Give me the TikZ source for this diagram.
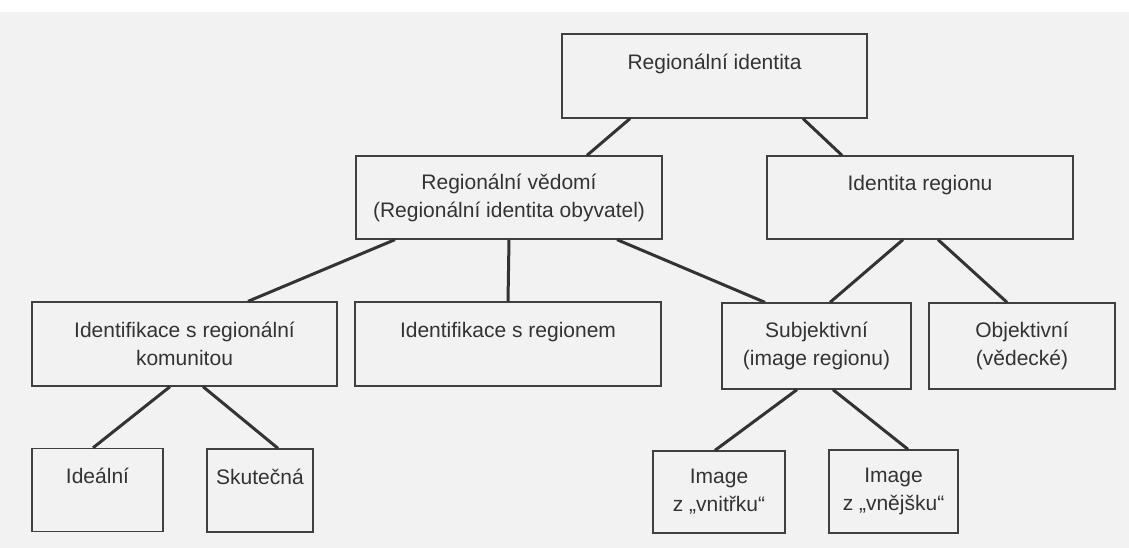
\documentclass[tikz,border=0pt]{standalone}
\usepackage{fontspec}
\setmainfont{Liberation Sans}
\begin{document}
\begin{tikzpicture}[x=1pt, y=-1pt,
    caja/.style={draw=black!75, line width=1.3pt, inner sep=0pt, align=center,
      text=black!80, font=\fontsize{21}{28}\selectfont},
    arriba/.style={text height=16pt, text depth=29pt},
    enlace/.style={draw=black!80, line width=3pt}]
        % Fondo
        \useasboundingbox (0,0) rectangle (1129,548);
        \fill[black!5] (0,12) rectangle (1129,548);

        % Nivel 1
        \node[caja, arriba, minimum width=305pt, minimum height=84pt] (identita) at (714.5,76) {Regionální identita};

        % Nivel 2
        \node[caja, minimum width=306pt, minimum height=83pt] (vedomi) at (509,197.5) {Regionální vědomí\\(Regionální identita obyvatel)};
        \node[caja, arriba, minimum width=306pt, minimum height=83pt] (region) at (920,197.5) {Identita regionu};

        % Nivel 3
        \node[caja, minimum width=305pt, minimum height=84pt] (komunita) at (184.5,344) {Identifikace s regionální\\komunitou};
        \node[caja, arriba, minimum width=306pt, minimum height=84pt] (sregionem) at (508,344) {Identifikace s regionem};
        \node[caja, minimum width=189pt, minimum height=86pt] (subj) at (816.5,346) {Subjektivní\\(image regionu)};
        \node[caja, minimum width=186pt, minimum height=86pt] (obj) at (1022,346) {Objektivní\\(vědecké)};

        % Nivel 4
        \node[caja, arriba, minimum width=131pt, minimum height=83pt] (idealni) at (97.5,490) {Ideální};
        \node[caja, arriba, minimum width=106pt, minimum height=83pt] (skutecna) at (260,490.5) {Skutečná};
        \node[caja, minimum width=132pt, minimum height=82pt] (vnitrku) at (719,492) {Image\\z „vnitřku“};
        \node[caja, minimum width=129pt, minimum height=83pt] (vnejsku) at (893.5,491.5) {Image\\z „vnějšku“};

        % Conexiones
        \draw[enlace] ([xshift=-84.5pt]identita.south) -- ([xshift=78pt]vedomi.north);
        \draw[enlace] ([xshift=88.5pt]identita.south) -- ([xshift=-78pt]region.north);
        \draw[enlace] ([xshift=-114pt]vedomi.south) -- ([xshift=63.5pt]komunita.north);
        \draw[enlace] (vedomi.south) -- (sregionem.north);
        \draw[enlace] ([xshift=108pt]vedomi.south) -- ([xshift=-51.5pt]subj.north);
        \draw[enlace] ([xshift=-17pt]region.south) -- ([xshift=13.5pt]subj.north);
        \draw[enlace] ([xshift=18pt]region.south) -- ([xshift=-15pt]obj.north);
        \draw[enlace] ([xshift=-14.5pt]komunita.south) -- ([xshift=-4.5pt]idealni.north);
        \draw[enlace] ([xshift=18.5pt]komunita.south) -- ([xshift=18pt]skutecna.north);
        \draw[enlace] ([xshift=-19.5pt]subj.south) -- ([xshift=-4pt]vnitrku.north);
        \draw[enlace] ([xshift=16.5pt]subj.south) -- ([xshift=14.5pt]vnejsku.north);
\end{tikzpicture}
\end{document}
